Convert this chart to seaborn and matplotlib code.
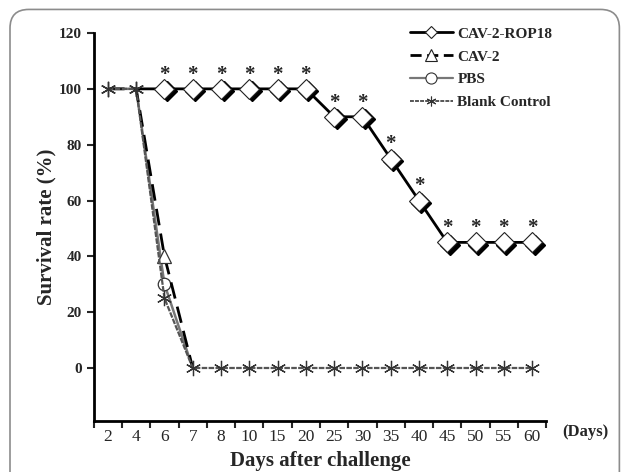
import numpy as np
import pandas as pd
import seaborn as sns
import matplotlib.pyplot as plt
from matplotlib.patches import FancyBboxPatch
from matplotlib.lines import Line2D
import matplotlib.transforms as mtransforms

sns.set_theme(style="white")
plt.rcParams['font.family'] = ['Liberation Serif', 'DejaVu Serif']

days = ["2", "4", "6", "7", "8", "10", "15", "20", "25", "30", "35", "40", "45", "50", "55", "60"]
rop18 = [100, 100, 100, 100, 100, 100, 100, 100, 90, 90, 75, 60, 45, 45, 45, 45]
cav2 = [100, 100, 40, 0]
pbs = [100, 100, 30, 0]
blank = [100, 100, 25] + [0] * 13
star_from = 2  # first day index with significance mark

x_all = np.arange(len(days))

fig = plt.figure(figsize=(6.25, 4.72), dpi=100)
ax = fig.add_axes([0.150, 0.108, 0.724, 0.822])

# rounded frame around the figure
frame = FancyBboxPatch((0.016, -0.05), 0.975, 1.03, boxstyle="round,pad=0,rounding_size=0.03",
                       transform=fig.transFigure, fill=False, edgecolor="#8c8c8c", lw=1.2,
                       mutation_aspect=625 / 472)
fig.patches.append(frame)

# blank control (dashed gray with asterisks)
sns.lineplot(x=x_all, y=blank, ax=ax, color="#555555", lw=1.6, linestyle=(0, (2.5, 0.6)),
             marker=(6, 2, 0), markersize=11, markeredgewidth=0.9, markeredgecolor="#333333",
             zorder=3)
# PBS (marker only visible where not covered)
sns.lineplot(x=x_all[:len(pbs)], y=pbs, ax=ax, color="#777777", lw=1.8, marker="o",
             markevery=[2], markersize=9, markerfacecolor="white", markeredgecolor="#333333",
             markeredgewidth=0.9, zorder=2)
# CAV-2
sns.lineplot(x=x_all[:len(cav2)], y=cav2, ax=ax, color="black", lw=2.0, linestyle=(0, (6, 3)),
             marker="^", markevery=[2], markersize=10, markerfacecolor="white",
             markeredgecolor="#333333", markeredgewidth=0.9, zorder=2)

# CAV-2-ROP18 with shaded diamonds
xr = x_all[1:]
yr = rop18[1:]
sns.lineplot(x=xr, y=yr, ax=ax, color="black", lw=2.0, zorder=4)
shadow = ax.transData + mtransforms.ScaledTranslation(1.8 / 72, -1.8 / 72, fig.dpi_scale_trans)
ax.plot(x_all[star_from:], rop18[star_from:], linestyle="none", marker="D", markersize=10,
        color="black", transform=shadow, zorder=5)
ax.plot(x_all[star_from:], rop18[star_from:], linestyle="none", marker="D", markersize=10,
        markerfacecolor="white", markeredgecolor="#222222", markeredgewidth=0.8, zorder=6)
ax.plot(x_all[:star_from], blank[:star_from], linestyle="none", marker=(6, 2, 0), markersize=11,
        markeredgewidth=0.9, color="#333333", zorder=7)

for xi, yi in zip(x_all[star_from:], rop18[star_from:]):
    ax.text(xi, yi + 1.5, "*", ha="center", va="bottom", fontsize=15, fontweight="bold")

ax.set_xlim(-0.5, len(days) - 0.5)
ax.set_ylim(-19, 120)
ax.set_yticks([0, 20, 40, 60, 80, 100, 120])
ax.set_xticks(x_all)
ax.set_xticklabels(days, fontsize=12.5)
ax.set_xticks(np.arange(-0.5, len(days)), minor=True)
ax.tick_params(axis="x", which="major", length=0, pad=6)
ax.tick_params(axis="x", which="minor", length=5, width=1.5, direction="out", bottom=True)
ax.tick_params(axis="y", length=5, width=1.5, direction="out", left=True, labelsize=11)
for lab in ax.get_yticklabels():
    lab.set_fontweight("bold")
for s in ["top", "right"]:
    ax.spines[s].set_visible(False)
for s in ["left", "bottom"]:
    ax.spines[s].set_color("black")
    ax.spines[s].set_linewidth(2)

ax.set_ylabel("Survival rate (%)", fontsize=15, fontweight="bold", labelpad=2)
ax.set_xlabel("Days after challenge", fontsize=15, fontweight="bold", labelpad=4)
fig.text(0.900, 0.085, "(Days)", fontsize=12, fontweight="bold", va="center")

handles = [
    Line2D([], [], color="black", lw=2, marker="D", markersize=6, markerfacecolor="white",
           markeredgecolor="#222222", markeredgewidth=0.8),
    Line2D([], [], color="black", lw=2, linestyle=(0, (4, 2)), marker="^", markersize=8,
           markerfacecolor="white", markeredgecolor="#222222", markeredgewidth=0.8),
    Line2D([], [], color="#777777", lw=1.6, marker="o", markersize=8, markerfacecolor="white",
           markeredgecolor="#333333", markeredgewidth=0.8),
    Line2D([], [], color="#555555", lw=1.4, linestyle=(0, (2, 0.6)), marker=(6, 2, 0),
           markersize=7, markeredgewidth=0.8, markeredgecolor="#333333"),
]
labels = ["CAV-2-ROP18", "CAV-2", "PBS", "Blank Control"]
ax.legend(handles, labels, loc="upper left", bbox_to_anchor=(0.634, 0.972),
          bbox_transform=fig.transFigure, frameon=False, handlelength=2.8, handletextpad=0.3,
          labelspacing=0.6, prop={"weight": "bold", "size": 11})

fig.savefig("out.png", dpi=100)
